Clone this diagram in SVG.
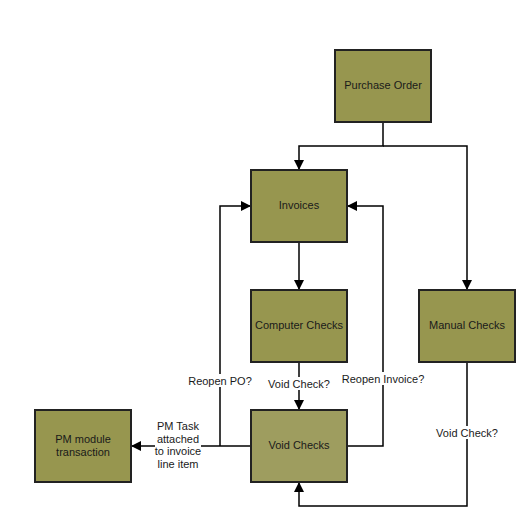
<svg xmlns="http://www.w3.org/2000/svg" width="519" height="516" viewBox="0 0 519 516">
<style>
.box{fill:#97964f;stroke:#222;stroke-width:2}
.lite{fill:#9e9d5f}
.t{font-family:"Liberation Sans",Arial,sans-serif;font-size:11px;fill:#1a1a1a;text-anchor:middle}
.c{fill:none;stroke:#000;stroke-width:1.5}
.lbl{fill:#fff}
</style>
<defs>
<marker id="a" markerWidth="10" markerHeight="10" refX="9" refY="5" orient="auto" markerUnits="userSpaceOnUse">
<path d="M0,0 L10,5 L0,10 Z" fill="#000"/>
</marker>
</defs>
<rect width="519" height="516" fill="#fff"/>
<g id="connectors">
<path class="c" d="M383,122 V146 H299 V169" marker-end="url(#a)"/>
<path class="c" d="M383,146 H467 V289" marker-end="url(#a)"/>
<path class="c" d="M299,242 V289" marker-end="url(#a)"/>
<path class="c" d="M299,362 V409" marker-end="url(#a)"/>
<path class="c" d="M251,446 H132" marker-end="url(#a)"/>
<path class="c" d="M220,446 V206 H250" marker-end="url(#a)"/>
<path class="c" d="M347,446 H383 V206 H348" marker-end="url(#a)"/>
<path class="c" d="M467,362 V506 H299 V483" marker-end="url(#a)"/>
<rect class="lbl" x="268" y="377" width="62" height="13"/>
<text class="t" x="299" y="388">Void Check?</text>
<rect class="lbl" x="188" y="374" width="64" height="13"/>
<text class="t" x="220" y="385">Reopen PO?</text>
<rect class="lbl" x="342" y="372" width="82" height="13"/>
<text class="t" x="383" y="383">Reopen Invoice?</text>
<rect class="lbl" x="436" y="426" width="62" height="13"/>
<text class="t" x="467" y="437">Void Check?</text>
<rect class="lbl" x="155" y="419" width="46" height="52"/>
<text class="t" x="178" y="430">PM Task</text>
<text class="t" x="178" y="442.5">attached</text>
<text class="t" x="178" y="455">to invoice</text>
<text class="t" x="178" y="467.5">line item</text>
</g>
<g id="purchase-order"><rect class="box" x="335" y="50" width="96" height="72"/><text class="t" x="383" y="89">Purchase Order</text></g>
<g id="invoices"><rect class="box" x="251" y="170" width="96" height="72"/><text class="t" x="299" y="209">Invoices</text></g>
<g id="computer-checks"><rect class="box" x="251" y="290" width="96" height="72"/><text class="t" x="299" y="329">Computer Checks</text></g>
<g id="manual-checks"><rect class="box" x="419" y="290" width="96" height="72"/><text class="t" x="467" y="329">Manual Checks</text></g>
<g id="void-checks"><rect class="box lite" x="251" y="410" width="96" height="72"/><text class="t" x="299" y="449">Void Checks</text></g>
<g id="pm-module"><rect class="box" x="35" y="410" width="96" height="72"/><text class="t" x="83" y="443">PM module</text><text class="t" x="83" y="456">transaction</text></g>
</svg>
